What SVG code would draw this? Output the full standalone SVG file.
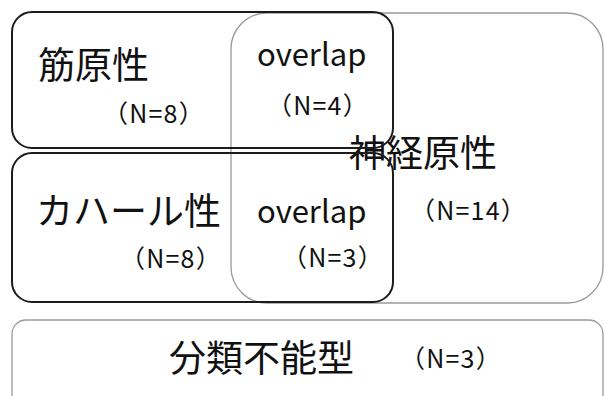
<svg xmlns="http://www.w3.org/2000/svg" width="605" height="396" viewBox="0 0 605 396">
<style>
.dark{fill:none;stroke:#1c1c1c;stroke-width:2}
.light{fill:none;stroke:#9a9a9a;stroke-width:1.3}
.big{font-family:"Noto Sans CJK JP","Noto Sans",sans-serif;font-size:37px;fill:#111}
.mid{font-family:"Noto Sans CJK JP","Noto Sans",sans-serif;font-size:31px;fill:#111}
.n{font-family:"Noto Sans CJK JP","Noto Sans",sans-serif;font-size:25px;letter-spacing:1.2px;fill:#111}
</style>
<rect width="605" height="396" fill="#fff"/>
<g id="neurogenic">
<rect class="light" x="231" y="13" width="372" height="290" rx="36"/>
<text class="big" x="349" y="167">神経原性</text>
<text class="n" x="410" y="220">（N=14）</text>
</g>
<g id="myogenic">
<rect class="dark" x="12" y="12" width="381" height="136" rx="20"/>
<text class="big" x="38" y="79">筋原性</text>
<text class="n" x="103" y="123">（N=8）</text>
</g>
<g id="overlap-top">
<text class="mid" x="257" y="66">overlap</text>
<text class="n" x="267" y="115">（N=4）</text>
</g>
<g id="kahal">
<rect class="dark" x="12" y="153" width="381" height="149" rx="20"/>
<text class="big" x="36" y="225">カハール性</text>
<text class="n" x="120" y="268">（N=8）</text>
</g>
<g id="overlap-bottom">
<text class="mid" x="257" y="223">overlap</text>
<text class="n" x="282" y="267">（N=3）</text>
</g>
<g id="unclassified">
<rect class="light" x="12" y="320" width="591" height="90" rx="14"/>
<text class="big" x="169" y="372">分類不能型</text>
<text class="n" x="400" y="368">（N=3）</text>
</g>
<g id="connectors"/>
</svg>
